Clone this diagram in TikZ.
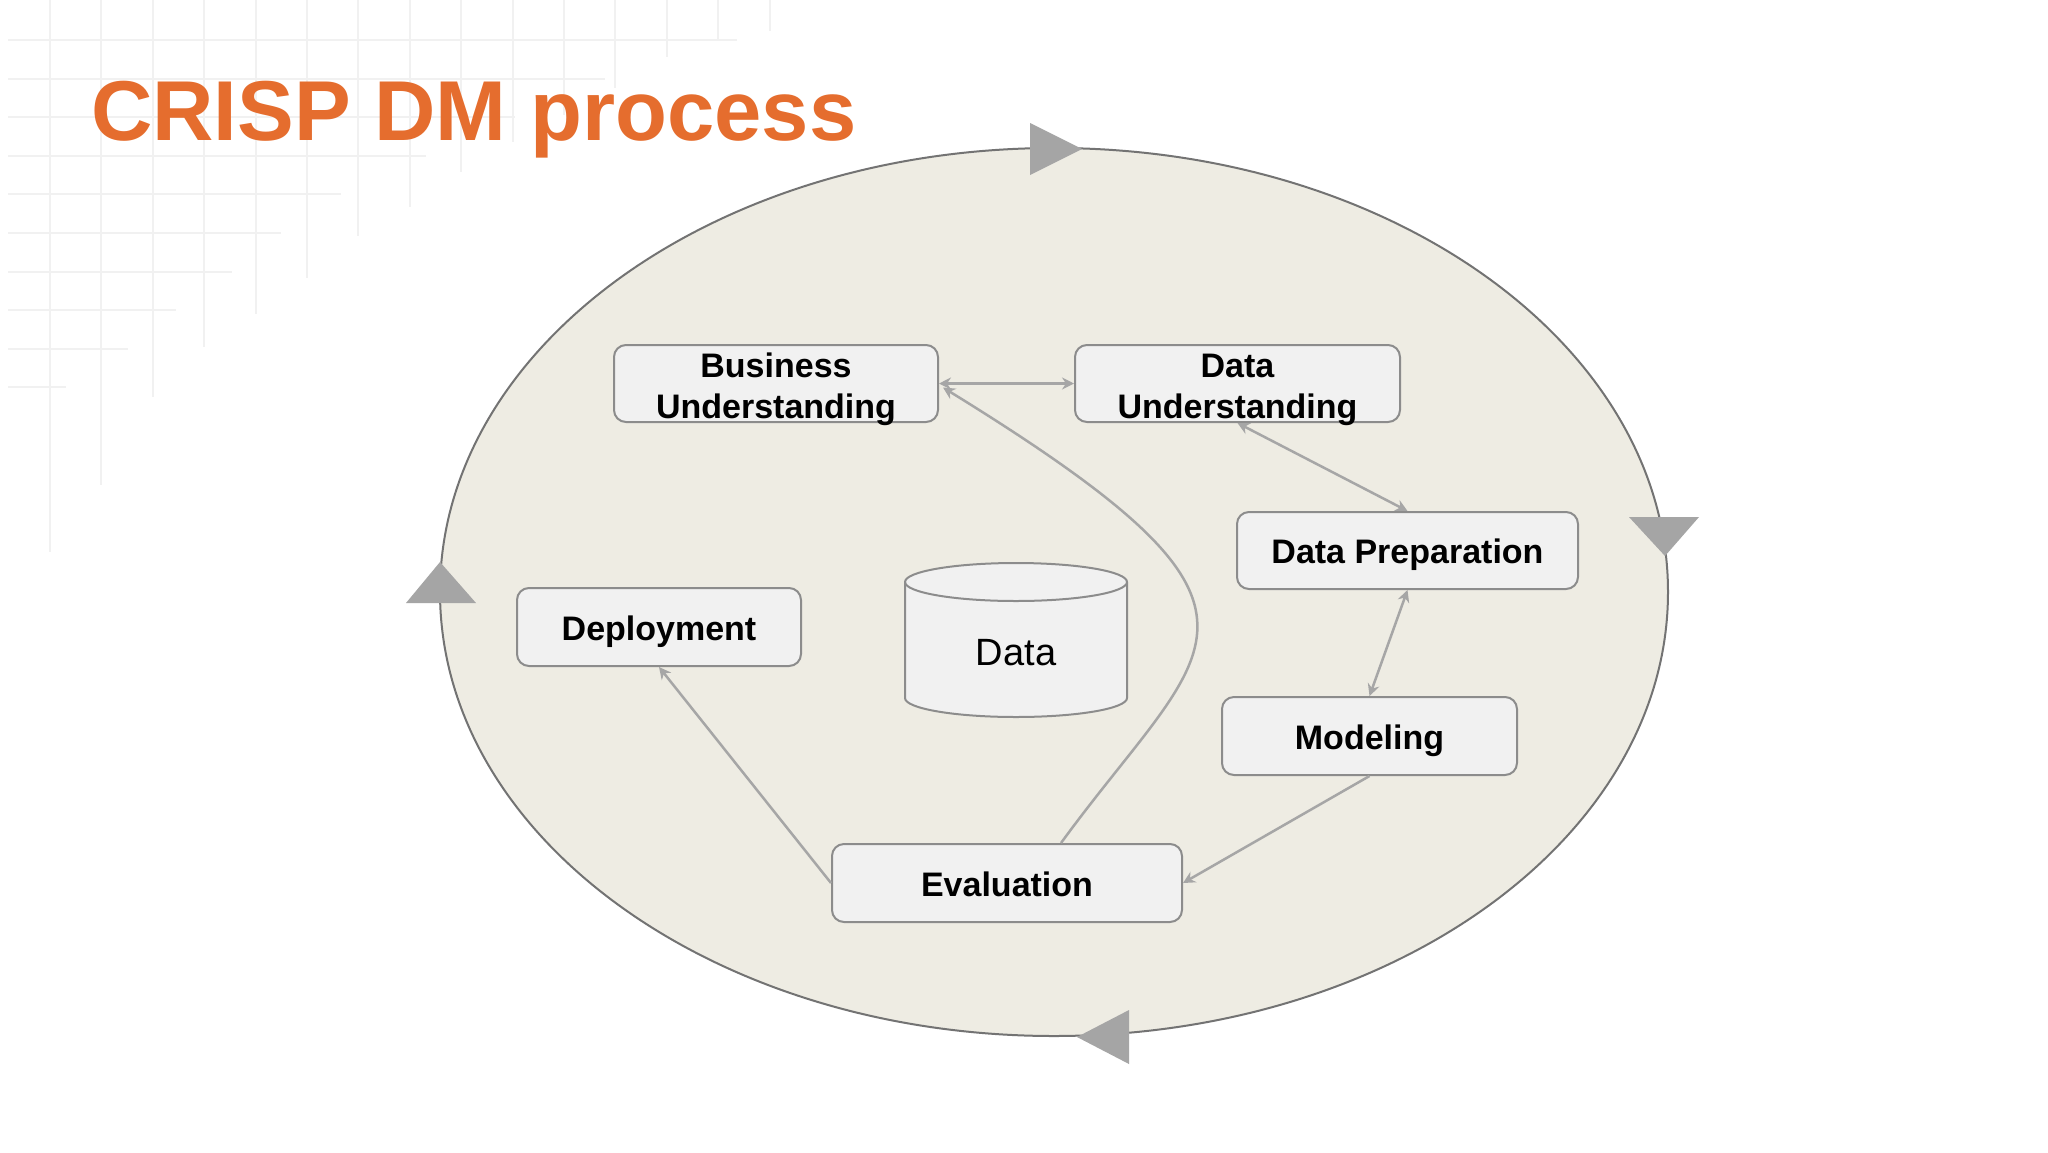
\documentclass[tikz,border=0pt]{standalone}
\usepackage{fontspec}
\setmainfont{Liberation Sans}
\usetikzlibrary{arrows.meta}
\definecolor{titleorange}{HTML}{E56D2E}
\definecolor{ellfill}{HTML}{EEECE3}
\definecolor{ellline}{HTML}{737373}
\definecolor{boxfill}{HTML}{F1F1F1}
\definecolor{boxline}{HTML}{8C8C8C}
\definecolor{conn}{HTML}{A6A6A6}
\definecolor{tri}{HTML}{A5A5A5}
\definecolor{gridc}{HTML}{F1F1F1}
\tikzset{
  stagebox/.style={draw=boxline, fill=boxfill, line width=2pt, rounded corners=12pt,
    inner sep=0pt, align=center, font=\fontsize{34}{41}\selectfont\bfseries},
  oneline/.style={text height=26pt, text depth=0pt},
  twoline/.style={text height=69pt, text depth=0pt},
  conline/.style={draw=conn, line width=2.5pt, {Stealth[length=12pt,width=12pt,inset=4pt]}-{Stealth[length=12pt,width=12pt,inset=4pt]}},
  conto/.style={draw=conn, line width=2.5pt, -{Stealth[length=12pt,width=12pt,inset=4pt]}},
  cycletri/.style={fill=tri, draw=none},
  gridline/.style={draw=gridc, line width=2pt}
}
\begin{document}
\begin{tikzpicture}[x=1pt,y=-1pt]
\useasboundingbox[fill=white] (0,0) rectangle (2048,1152);
% faint background grid
\foreach \i/\len in {0/737,1/605,2/515,3/426,4/341,5/281,6/232,7/176,8/128,9/66}{
  \path[gridline] (8,{40+38.6*\i}) -- (\len,{40+38.6*\i});
}
\foreach \j/\bot in {0/552,1/485,2/397,3/347,4/314,5/278,6/236,7/207,8/172,9/142,10/115,11/88,12/57,13/40,14/31}{
  \path[gridline] ({50+51.4*\j},0) -- ({50+51.4*\j},\bot);
}
% title
\node[anchor=base west, inner sep=0pt, text=titleorange, font=\fontsize{85}{100}\selectfont\bfseries] (title) at (91,140) {CRISP DM process};
% big cycle ellipse
\draw[draw=ellline, fill=ellfill, line width=2pt] (1054,592) ellipse [x radius=614pt, y radius=444pt];
% cycle triangles
\fill[cycletri] (1030,123) -- (1082,149) -- (1030,175) -- cycle;
\fill[cycletri] (1629,517) -- (1699,517) -- (1665,556) -- cycle;
\fill[cycletri] (1129,1010) -- (1077,1037) -- (1129,1064) -- cycle;
\fill[cycletri] (406,603) -- (476,603) -- (440,562) -- cycle;
% data cylinder
\path[draw=boxline, fill=boxfill, line width=2pt] (905,582) -- (905,698)
  arc[start angle=180, end angle=360, x radius=111pt, y radius=19pt] -- (1127,582)
  arc[start angle=0, end angle=180, x radius=111pt, y radius=19pt] -- cycle;
\draw[draw=boxline, line width=2pt] (905,582) arc[start angle=180, end angle=360, x radius=111pt, y radius=19pt];
\node[anchor=base, inner sep=0pt, font=\fontsize{38}{44}\selectfont] (data) at (1016,665) {Data};
% stage boxes
\node[stagebox, twoline, minimum width=324pt, minimum height=77pt] (bu) at (776,383.5) {Business\\Understanding};
\node[stagebox, twoline, minimum width=325pt, minimum height=77pt] (du) at (1237.5,383.5) {Data\\Understanding};
\node[stagebox, oneline, minimum width=341pt, minimum height=77pt] (dp) at (1407.5,550.5) {Data Preparation};
\node[stagebox, oneline, minimum width=295pt, minimum height=78pt] (mod) at (1369.5,736) {Modeling};
\node[stagebox, oneline, minimum width=350pt, minimum height=78pt] (ev) at (1007,883) {Evaluation};
\node[stagebox, oneline, minimum width=284pt, minimum height=78pt] (dep) at (659,627) {Deployment};
% connectors
\draw[conline] (bu.east) -- (du.west);
\draw[conline] (du.south) -- (dp.north);
\draw[conline] (dp.south) -- (mod.north);
\draw[conto] (mod.south) -- (ev.east);
\draw[conto] (ev.west) -- (dep.south);
\draw[conto] ([xshift=54pt]ev.north) .. controls (1209,640) and (1314,616) .. ([xshift=4pt,yshift=-4pt]bu.east);
\end{tikzpicture}
\end{document}
